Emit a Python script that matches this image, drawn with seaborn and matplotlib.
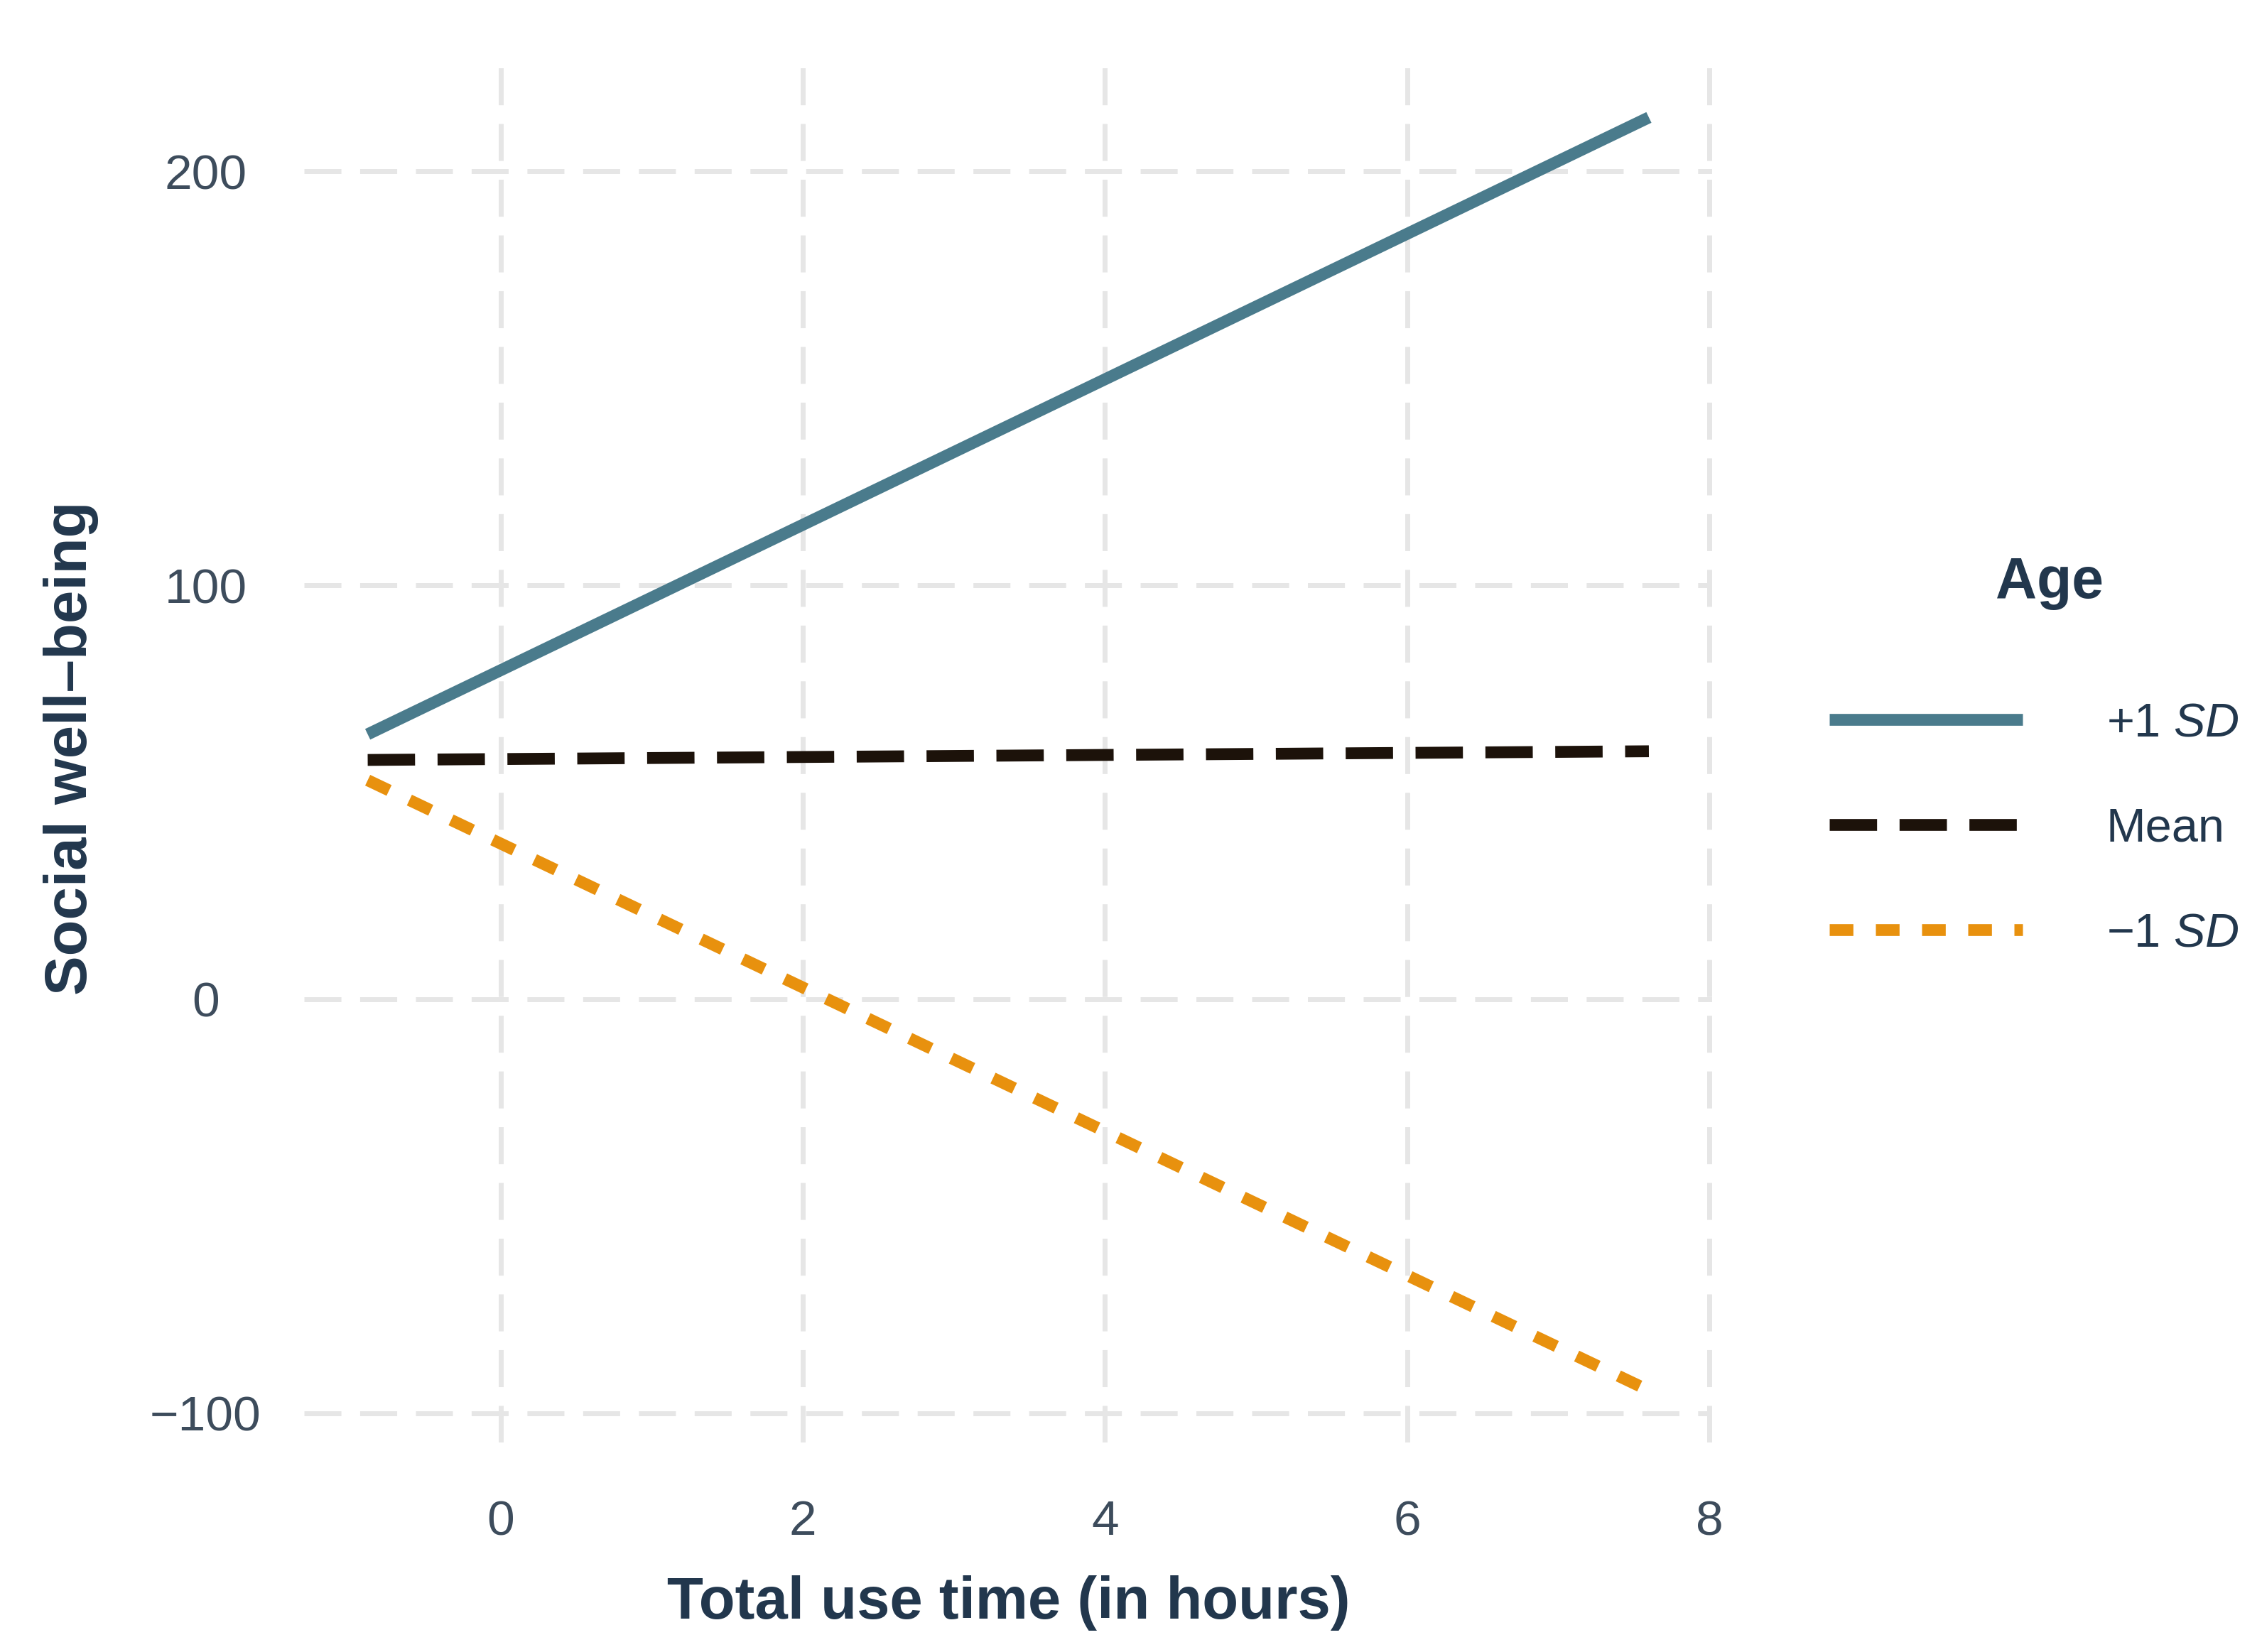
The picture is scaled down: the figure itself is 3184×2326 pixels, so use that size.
import matplotlib
matplotlib.use("Agg")
import matplotlib.pyplot as plt
import seaborn as sns
import pandas as pd

# ---- data ----
age_groups = ["+1 SD", "Mean", "\u22121 SD"]
legend_labels = ["+1 $\\mathit{SD}$", "Mean", "\u22121 $\\mathit{SD}$"]
use_time_start = [-0.88, -0.88, -0.88]
use_time_end = [7.6, 7.6, 7.6]
wellbeing_start = [64.0, 57.8, 52.9]
wellbeing_end = [213.0, 59.9, -94.5]
x_ticks = [0, 2, 4, 6, 8]
y_ticks = [-100, 0, 100, 200]

line_colors = ["#4a7b8c", "#1c120a", "#e8910e"]
line_dashes = ["", (4.0, 1.9), (2.0, 1.9)]

df = pd.DataFrame({
    "time": use_time_start + use_time_end,
    "wellbeing": wellbeing_start + wellbeing_end,
    "Age": age_groups + age_groups,
})

sns.set_theme(style="white")
plt.rcParams["font.family"] = ["Liberation Sans", "DejaVu Sans"]
plt.rcParams["mathtext.fontset"] = "custom"
plt.rcParams["mathtext.rm"] = "Liberation Sans"
plt.rcParams["mathtext.it"] = "Liberation Sans:italic"
plt.rcParams["lines.solid_capstyle"] = "butt"
plt.rcParams["lines.dash_capstyle"] = "butt"

TICK_C = "#3d4c5c"
TITLE_C = "#22374d"

fig = plt.figure(figsize=(15.92, 11.63), dpi=200)
ax = fig.add_axes([0.1345, 0.127, 0.757 - 0.1345, 0.967 - 0.127])

sns.lineplot(
    data=df, x="time", y="wellbeing", hue="Age", style="Age",
    hue_order=age_groups, style_order=age_groups,
    palette=dict(zip(age_groups, line_colors)),
    dashes=dict(zip(age_groups, line_dashes)),
    linewidth=6, estimator=None, ax=ax,
)

ax.set_xlim(-1.30, 8.02)
ax.set_ylim(-107.0, 228.2)
ax.set_xticks(x_ticks)
ax.set_yticks(y_ticks)
ax.grid(True, color="#e6e6e6", linewidth=2.5, linestyle=(0, (7.5, 3.8)))
ax.set_axisbelow(True)
for s in ax.spines.values():
    s.set_visible(False)
ax.tick_params(axis="both", length=0, labelsize=25, labelcolor=TICK_C)
ax.tick_params(axis="y", pad=50)
ax.tick_params(axis="x", pad=29)
for lbl in ax.get_yticklabels():
    lbl.set_horizontalalignment("center")

ax.set_xlabel("Total use time (in hours)", fontsize=30, fontweight="bold", color=TITLE_C)
ax.set_ylabel("Social well\u2013being", fontsize=30, fontweight="bold", color=TITLE_C)
ax.xaxis.set_label_coords(0.5, -0.0957)
ax.yaxis.set_label_coords(-0.146, 0.5)

handles, labels = ax.get_legend_handles_labels()
ax.get_legend().remove()
fig.legend(handles, legend_labels, loc="upper left", bbox_to_anchor=(0.8087, 0.575),
           frameon=False, fontsize=24, handlelength=4.08, handletextpad=1.77,
           labelspacing=1.29, borderpad=0, borderaxespad=0, labelcolor=TITLE_C)
fig.text(0.906, 0.647, "Age", ha="center", va="center", fontsize=29,
         fontweight="bold", color=TITLE_C)

fig.savefig("out.png", dpi=200, facecolor="white")
